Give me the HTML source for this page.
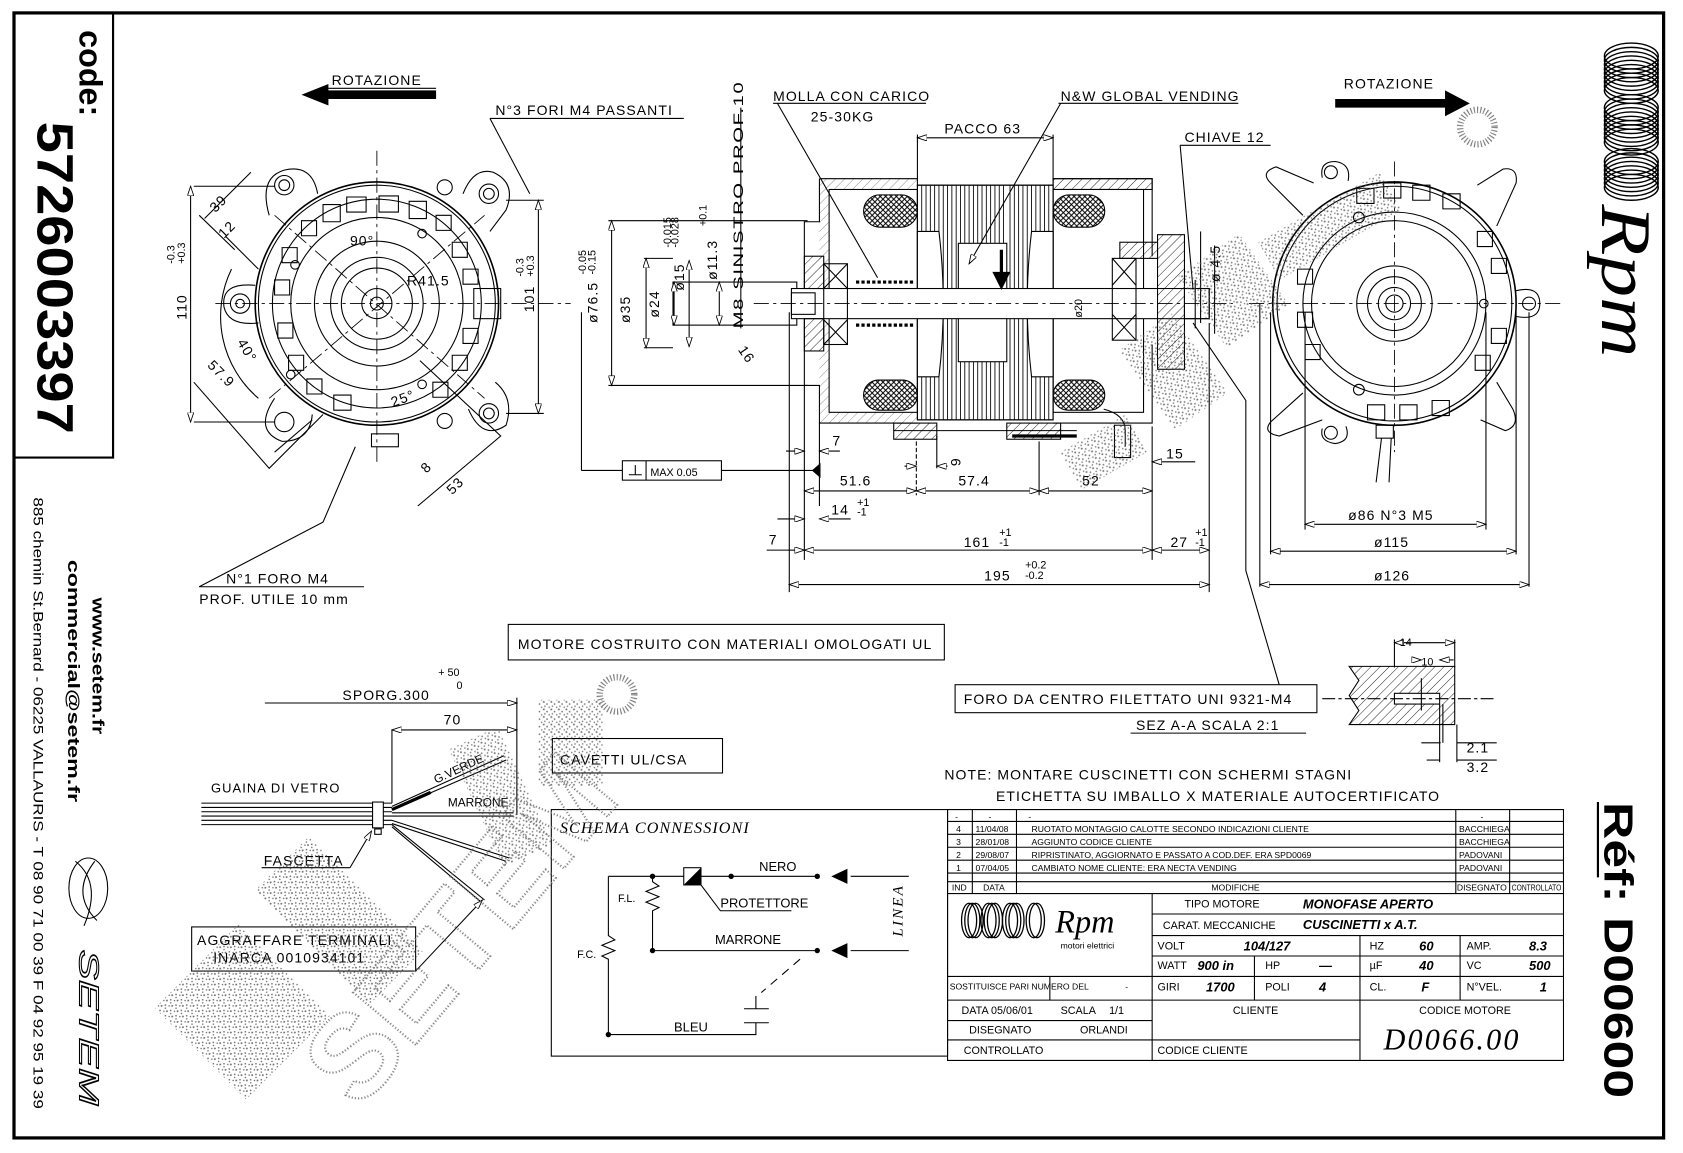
<!DOCTYPE html>
<html><head><meta charset="utf-8"><style>
html,body{margin:0;padding:0;background:#fff;}
svg{display:block;}
text{font-family:"Liberation Sans",sans-serif;fill:#000;}
.t{font-size:13px;letter-spacing:1px;}
.s{font-size:10px;}
.l{stroke:#000;stroke-width:1;fill:none;}
.th{stroke:#000;stroke-width:2;fill:none;}
.d{stroke:#000;stroke-width:0.8;fill:none;stroke-dasharray:14 4 3 4;}
</style></head><body>
<svg width="1683" height="1153" viewBox="0 0 1563 1071" preserveAspectRatio="none" xmlns="http://www.w3.org/2000/svg">
<defs>
<marker id="a" markerWidth="10" markerHeight="6" refX="9" refY="3" orient="auto-start-reverse" markerUnits="userSpaceOnUse"><path d="M0,0 L9,3 L0,6 Z" fill="#fff" stroke="#000" stroke-width="0.8"/></marker>
<pattern id="h" width="6" height="6" patternUnits="userSpaceOnUse" patternTransform="rotate(45)"><line x1="0" y1="0" x2="0" y2="6" stroke="#000" stroke-width="0.8"/></pattern>
<pattern id="x" width="5" height="5" patternUnits="userSpaceOnUse"><path d="M0,0 L5,5 M5,0 L0,5" stroke="#000" stroke-width="0.9"/></pattern>
<pattern id="g" width="7" height="7" patternUnits="userSpaceOnUse"><circle cx="1" cy="1" r="0.9" fill="#555"/><circle cx="4" cy="3" r="0.8" fill="#555"/><circle cx="2" cy="5" r="0.7" fill="#555"/><circle cx="6" cy="6" r="0.7" fill="#555"/></pattern>
</defs>
<rect width="1563" height="1071" fill="#fff"/>
<!-- frame -->
<rect x="13" y="12" width="1532" height="1045" fill="none" stroke="#000" stroke-width="3"/>
<path d="M105,12 V425 H13" class="th" stroke-width="3"/>
<text transform="translate(74,28) rotate(90)" style="font-size:30px;font-weight:bold">code:</text>
<text transform="translate(35,113) rotate(90)" style="font-size:47px;font-weight:bold" textLength="290" lengthAdjust="spacingAndGlyphs">5726003397</text>
<text transform="translate(31,462) rotate(90)" style="font-size:13px" textLength="568" lengthAdjust="spacingAndGlyphs">885 chemin St.Bernard  -  06225 VALLAURIS  -  T 08 90 71 00 39   F 04 92 95 19 39</text>
<text transform="translate(63,520) rotate(90)" style="font-size:15px;font-weight:bold" textLength="225" lengthAdjust="spacingAndGlyphs">commercial@setem.fr</text>
<text transform="translate(86,555) rotate(90)" style="font-size:15px;font-weight:bold" textLength="127" lengthAdjust="spacingAndGlyphs">www.setem.fr</text>
<ellipse cx="82" cy="825" rx="18" ry="28" class="l"/><path d="M70,800 Q95,820 78,860 M88,800 Q65,830 90,855" class="l"/>
<text transform="translate(74,882) rotate(90)" style="font-size:26px;font-style:italic;fill:#fff;stroke:#000;stroke-width:1" textLength="145" lengthAdjust="spacingAndGlyphs">SETEM</text>

<!-- Rpm logo right -->
<g stroke="#000" stroke-width="1.3" fill="none">
<ellipse cx="1515" cy="52" rx="25" ry="12"/><ellipse cx="1515" cy="56" rx="25" ry="12"/><ellipse cx="1515" cy="60" rx="25" ry="12"/><ellipse cx="1515" cy="64" rx="25" ry="12"/><ellipse cx="1515" cy="68" rx="25" ry="12"/><ellipse cx="1515" cy="72" rx="25" ry="12"/><ellipse cx="1515" cy="76" rx="25" ry="12"/><ellipse cx="1515" cy="80" rx="25" ry="12"/><ellipse cx="1515" cy="84" rx="25" ry="12"/>
<ellipse cx="1515" cy="100" rx="25" ry="12"/><ellipse cx="1515" cy="104" rx="25" ry="12"/><ellipse cx="1515" cy="108" rx="25" ry="12"/><ellipse cx="1515" cy="112" rx="25" ry="12"/><ellipse cx="1515" cy="116" rx="25" ry="12"/><ellipse cx="1515" cy="120" rx="25" ry="12"/><ellipse cx="1515" cy="124" rx="25" ry="12"/><ellipse cx="1515" cy="128" rx="25" ry="12"/><ellipse cx="1515" cy="132" rx="25" ry="12"/>
<ellipse cx="1515" cy="150" rx="25" ry="12"/><ellipse cx="1515" cy="154" rx="25" ry="12"/><ellipse cx="1515" cy="158" rx="25" ry="12"/><ellipse cx="1515" cy="162" rx="25" ry="12"/><ellipse cx="1515" cy="166" rx="25" ry="12"/><ellipse cx="1515" cy="170" rx="25" ry="12"/><ellipse cx="1515" cy="174" rx="25" ry="12"/>
</g>
<text transform="translate(1488,190) rotate(90)" style="font-size:66px;font-style:italic;font-family:'Liberation Serif',serif" textLength="142" lengthAdjust="spacingAndGlyphs">Rpm</text>
<text transform="translate(1490,745) rotate(90)" style="font-size:38px;font-weight:bold" textLength="275" lengthAdjust="spacingAndGlyphs">Réf: D00600</text>
<line x1="1484" y1="745" x2="1484" y2="815" class="th"/>

<!-- ROTAZIONE arrows -->
<text x="308" y="79" class="t">ROTAZIONE</text><line x1="305" y1="82" x2="405" y2="82" class="l"/>
<path d="M405,84 H305 V78 L280,88 L305,98 V92 H405 Z"/>
<text x="1248" y="82" class="t">ROTAZIONE</text>
<path d="M1240,92 H1342 V84 L1365,96 L1342,108 V100 H1240 Z"/>

<!-- LEFT FRONT VIEW -->
<g class="l">
<circle cx="350" cy="282" r="113" stroke-width="1.5"/><circle cx="350" cy="282" r="110"/><circle cx="350" cy="282" r="97"/><circle cx="350" cy="282" r="80"/><circle cx="350" cy="282" r="58"/><circle cx="350" cy="282" r="43"/><circle cx="350" cy="282" r="33"/><circle cx="350" cy="282" r="14"/><circle cx="350" cy="282" r="6"/>
<path d="M250,200 Q240,165 264,158 Q290,152 295,180 M430,180 Q440,155 458,160 Q480,170 470,195 L455,215"/>
<path d="M255,370 Q235,400 262,410 Q288,410 290,385 M435,380 Q448,410 470,395 Q478,370 460,355"/>
<path d="M237,265 Q205,262 208,285 Q212,303 240,300"/>
<circle cx="264" cy="172" r="9"/><circle cx="264" cy="172" r="5"/><circle cx="454" cy="180" r="9"/><circle cx="454" cy="180" r="5"/>
<circle cx="223" cy="282" r="9"/><circle cx="223" cy="282" r="4"/><circle cx="264" cy="392" r="9"/><circle cx="454" cy="384" r="9"/><circle cx="454" cy="384" r="5"/>
<circle cx="413" cy="174" r="7"/><circle cx="413" cy="391" r="7"/><circle cx="392" cy="217" r="4"/><circle cx="392" cy="357" r="4"/><circle cx="274" cy="246" r="4"/><circle cx="270" cy="348" r="4"/>
<rect x="440" y="268" width="25" height="28"/><rect x="345" y="403" width="25" height="12"/>
<path d="M280,205 h14 v14 h-14z M300,190 h16 v16 h-16z M322,183 h18 v14 h-18z M352,182 h18 v15 h-18z M380,187 h16 v16 h-16z M405,200 h14 v14 h-14z M420,225 h14 v14 h-14z M430,250 h14 v14 h-14z M430,305 h14 v14 h-14z M420,330 h14 v14 h-14z M402,355 h14 v14 h-14z M262,230 h14 v14 h-14z M255,260 h14 v14 h-14z M258,300 h14 v14 h-14z M268,330 h14 v14 h-14z M285,352 h14 v14 h-14z M310,367 h16 v14 h-16z"/>
</g>
<g class="d"><line x1="200" y1="282" x2="530" y2="282"/><line x1="350" y1="140" x2="350" y2="430"/><line x1="255" y1="200" x2="450" y2="370"/><line x1="250" y1="370" x2="450" y2="200"/></g>
<g class="l">
<line x1="180" y1="173" x2="255" y2="173"/><line x1="180" y1="392" x2="255" y2="392"/><line x1="177" y1="173" x2="177" y2="392" marker-start="url(#a)" marker-end="url(#a)"/>
<line x1="470" y1="186" x2="505" y2="186"/><line x1="470" y1="384" x2="505" y2="384"/><line x1="500" y1="186" x2="500" y2="384" marker-start="url(#a)" marker-end="url(#a)"/>
<path d="M190,203 L233,160 M185,200 L218,232 M210,220 L240,250"/>
<path d="M180,355 L250,435 L300,385 M255,420 L290,390 M388,470 L465,405 L390,335"/>
<path d="M330,415 L300,485 L185,545 H338 M455,110 H635 M455,110 L492,180"/>
<path d="M215,250 A100 100 0 0 0 240,370" />
</g>
<text transform="translate(173,297) rotate(-90)" class="t">110</text>
<text transform="translate(162,245) rotate(-90)" class="s">-0.3</text>
<text transform="translate(172,245) rotate(-90)" class="s">+0.3</text>
<text transform="translate(496,290) rotate(-90)" class="t">101</text>
<text transform="translate(486,257) rotate(-90)" class="s">-0.3</text>
<text transform="translate(496,257) rotate(-90)" class="s">+0.3</text>
<text transform="translate(200,198) rotate(-45)" class="t">39</text>
<text transform="translate(208,222) rotate(-45)" class="t">12</text>
<text transform="translate(192,340) rotate(45)" class="t">57.9</text>
<text transform="translate(220,318) rotate(60)" class="t">40°</text>
<text x="325" y="228" class="t">90°</text><text x="378" y="265" class="t">R41.5</text>
<text transform="translate(365,378) rotate(-20)" class="t">25°</text>
<text transform="translate(420,460) rotate(-45)" class="t">53</text>
<text transform="translate(396,440) rotate(-45)" class="t">8</text>
<text x="460" y="107" class="t">N°3 FORI M4 PASSANTI</text>
<text x="210" y="542" class="t">N°1 FORO M4</text>
<text x="185" y="561" class="t">PROF. UTILE 10 mm</text>

<g class="l">
<line x1="565" y1="205" x2="750" y2="205"/><line x1="565" y1="358" x2="750" y2="358"/><line x1="568" y1="205" x2="568" y2="358" marker-start="url(#a)" marker-end="url(#a)"/>
<line x1="598" y1="240" x2="625" y2="240"/><line x1="598" y1="323" x2="625" y2="323"/><line x1="600" y1="240" x2="600" y2="323" marker-start="url(#a)" marker-end="url(#a)"/>
<rect x="625" y="262" width="115" height="40"/><line x1="626" y1="262" x2="626" y2="302" marker-start="url(#a)" marker-end="url(#a)"/>
<line x1="640" y1="242" x2="640" y2="322" marker-start="url(#a)" marker-end="url(#a)"/>
<line x1="668" y1="262" x2="668" y2="302" marker-start="url(#a)" marker-end="url(#a)"/>
<line x1="688" y1="100" x2="688" y2="305"/>
<line x1="540" y1="290" x2="540" y2="437"/><line x1="540" y1="437" x2="578" y2="437"/>
<rect x="578" y="428" width="92" height="18"/><line x1="600" y1="428" x2="600" y2="446"/><line x1="670" y1="437" x2="762" y2="437"/>
</g>
<path d="M584,441 h12 M590,441 v-9" class="l"/><text x="604" y="442" class="s">MAX 0.05</text>
<path d="M762,430 L754,437 L762,444 Z"/>
<text transform="translate(555,300) rotate(-90)" class="t">ø76.5</text>
<text transform="translate(544,255) rotate(-90)" class="s">-0.05</text><text transform="translate(553,255) rotate(-90)" class="s">-0.15</text>
<text transform="translate(585,300) rotate(-90)" class="t">ø35</text>
<text transform="translate(612,295) rotate(-90)" class="t">ø24</text>
<text transform="translate(635,270) rotate(-90)" class="t">ø15</text>
<text transform="translate(623,230) rotate(-90)" class="s">-0.015</text><text transform="translate(630,230) rotate(-90)" class="s">-0.028</text>
<text transform="translate(666,260) rotate(-90)" class="t">ø11.3</text>
<text transform="translate(656,210) rotate(-90)" class="s">+0.1</text>
<text transform="translate(690,305) rotate(-90)" class="t" textLength="230" lengthAdjust="spacingAndGlyphs">M8 SINISTRO PROF.10</text>
<text transform="translate(685,325) rotate(55)" class="t">16</text>

<!-- CROSS SECTION -->
<g class="l">
<path d="M761,166 H852 M978,166 H1070 V238 M761,166 V206 H747 V358 H761 V393 H852 M978,393 H1070 V320"/>
<rect x="761" y="166" width="91" height="227" fill="url(#h)" stroke="none" opacity="0.5"/>
<rect x="770" y="176" width="82" height="207" fill="#fff" stroke="#000"/>
<rect x="978" y="176" width="84" height="207" fill="#fff" stroke="#000"/>
<rect x="978" y="166" width="92" height="10" fill="url(#h)"/>
<rect x="852" y="172" width="126" height="218" fill="#fff"/>
<path d="M856,172 V390 M860,172 V390 M864,172 V390 M868,172 V390 M872,172 V390 M876,172 V390 M880,172 V390 M884,172 V390 M888,172 V390 M892,172 V390 M938,172 V390 M942,172 V390 M946,172 V390 M950,172 V390 M954,172 V390 M958,172 V390 M962,172 V390 M966,172 V390 M970,172 V390 M974,172 V390 M896,172 V226 M900,172 V226 M904,172 V226 M908,172 V226 M912,172 V226 M916,172 V226 M920,172 V226 M924,172 V226 M928,172 V226 M932,172 V226 M896,336 V390 M900,336 V390 M904,336 V390 M908,336 V390 M912,336 V390 M916,336 V390 M920,336 V390 M924,336 V390 M928,336 V390 M932,336 V390" stroke-width="0.8"/>
<rect x="852" y="172" width="126" height="218"/>
<path d="M852,215 L872,215 Q880,282 872,350 L852,350 Z M978,215 L958,215 Q950,282 958,350 L978,350 Z" fill="#fff"/>
<rect x="890" y="226" width="45" height="110" fill="#fff"/>
<rect x="802" y="181" width="50" height="30" rx="15" fill="url(#x)"/><rect x="802" y="353" width="50" height="28" rx="14" fill="url(#x)"/>
<rect x="978" y="181" width="48" height="30" rx="15" fill="url(#x)"/><rect x="978" y="353" width="48" height="28" rx="14" fill="url(#x)"/>
<rect x="735" y="268" width="388" height="28" fill="#fff"/>
<rect x="735" y="272" width="22" height="20"/>
<rect x="765" y="245" width="22" height="75"/><path d="M765,245 L787,268 M787,245 L765,268 M765,297 L787,320 M787,297 L765,320"/>
<rect x="1033" y="240" width="22" height="76"/><path d="M1033,240 L1055,265 M1055,240 L1033,265 M1033,292 L1055,316 M1055,292 L1033,316"/>
<rect x="747" y="238" width="18" height="30" fill="url(#h)"/><rect x="747" y="296" width="18" height="30" fill="url(#h)"/>
<rect x="1075" y="218" width="25" height="125" fill="url(#h)"/><rect x="1040" y="225" width="35" height="15" fill="url(#h)"/>
<path d="M795,262 h55 M795,302 h55" stroke-dasharray="3 2" stroke-width="3"/>
<rect x="830" y="393" width="40" height="15" fill="url(#h)"/><rect x="935" y="393" width="50" height="15" fill="url(#h)"/>
<line x1="830" y1="400" x2="1000" y2="400"/><line x1="940" y1="405" x2="1000" y2="405" stroke-width="3"/>
<path d="M1025,380 Q1045,385 1045,400 V415 M1035,395 h15 v30 h-15z"/>
<line x1="1110" y1="260" x2="1110" y2="305"/><rect x="1100" y="268" width="23" height="28"/>
</g>
<path d="M930,232 V262 M924,254 L930,266 L936,254 Z" stroke="#000" stroke-width="3" fill="#000"/>
<line x1="700" y1="282" x2="1145" y2="282" class="d"/>
<g class="l">
<line x1="718" y1="96" x2="860" y2="96"/><path d="M722,96 L815,258"/>
<line x1="983" y1="96" x2="1150" y2="96"/><path d="M985,96 L900,245" marker-end="url(#a)"/>
<line x1="852" y1="128" x2="978" y2="128" marker-start="url(#a)" marker-end="url(#a)"/><line x1="852" y1="125" x2="852" y2="172"/><line x1="978" y1="125" x2="978" y2="172"/>
<line x1="1096" y1="135" x2="1180" y2="135"/><path d="M1096,135 L1108,269 M1108,300 L1157,372 V530 L1188,636"/>
<line x1="1115" y1="215" x2="1115" y2="300"/><line x1="1128" y1="228" x2="1128" y2="310"/>
<line x1="733" y1="290" x2="733" y2="550"/><line x1="747" y1="358" x2="747" y2="520"/><line x1="761" y1="393" x2="761" y2="470"/>
<line x1="851" y1="410" x2="851" y2="460" stroke-dasharray="4 2"/><line x1="965" y1="410" x2="965" y2="460"/><line x1="1070" y1="396" x2="1070" y2="520"/><line x1="1123" y1="300" x2="1123" y2="550"/>
<line x1="870" y1="405" x2="870" y2="435"/>
<line x1="730" y1="419" x2="747" y2="419" marker-end="url(#a)"/><line x1="761" y1="419" x2="780" y2="419" marker-start="url(#a)"/>
<line x1="840" y1="433" x2="851" y2="433" marker-end="url(#a)"/><line x1="870" y1="433" x2="880" y2="433" marker-start="url(#a)"/>
<line x1="1070" y1="429" x2="1110" y2="429" marker-start="url(#a)"/>
<line x1="747" y1="456" x2="851" y2="456" marker-start="url(#a)" marker-end="url(#a)"/><line x1="851" y1="456" x2="965" y2="456" marker-start="url(#a)" marker-end="url(#a)"/><line x1="965" y1="456" x2="1070" y2="456" marker-start="url(#a)" marker-end="url(#a)"/>
<line x1="722" y1="482" x2="747" y2="482" marker-end="url(#a)"/><line x1="761" y1="482" x2="790" y2="482" marker-start="url(#a)"/>
<line x1="712" y1="511" x2="733" y2="511"/><line x1="733" y1="511" x2="747" y2="511" marker-end="url(#a)"/><line x1="747" y1="511" x2="1070" y2="511" marker-start="url(#a)" marker-end="url(#a)"/><line x1="1070" y1="511" x2="1123" y2="511" marker-start="url(#a)" marker-end="url(#a)"/>
<line x1="733" y1="543" x2="1123" y2="543" marker-start="url(#a)" marker-end="url(#a)"/>
</g>
<text x="718" y="94" class="t">MOLLA CON CARICO</text><text x="753" y="113" class="t">25-30KG</text>
<text x="985" y="94" class="t">N&amp;W GLOBAL VENDING</text>
<text x="877" y="124" class="t">PACCO 63</text>
<text x="1100" y="132" class="t">CHIAVE 12</text>
<text transform="translate(1133,262) rotate(-90)" class="t">ø 4.5</text>
<text transform="translate(1005,295) rotate(-90)" class="s">ø20</text>
<text x="773" y="414" class="t">7</text><text x="883" y="432" class="t" transform="rotate(-90 888 428)">9</text>
<text x="1083" y="426" class="t">15</text>
<text x="780" y="451" class="t">51.6</text><text x="890" y="451" class="t">57.4</text><text x="1005" y="451" class="t">52</text>
<text x="772" y="478" class="t">14</text><text x="796" y="470" class="s">+1</text><text x="796" y="479" class="s">-1</text>
<text x="714" y="506" class="t">7</text><text x="895" y="508" class="t">161</text><text x="928" y="498" class="s">+1</text><text x="928" y="507" class="s">-1</text>
<text x="1087" y="508" class="t">27</text><text x="1110" y="498" class="s">+1</text><text x="1110" y="507" class="s">-1</text>
<text x="914" y="539" class="t">195</text><text x="952" y="528" class="s">+0.2</text><text x="952" y="538" class="s">-0.2</text>

<!-- RIGHT VIEW -->
<g class="l">
<circle cx="1295" cy="282" r="113" stroke-width="1.5"/><circle cx="1295" cy="282" r="109"/><circle cx="1295" cy="282" r="85"/><circle cx="1295" cy="282" r="77"/><circle cx="1295" cy="282" r="35"/><circle cx="1295" cy="282" r="25"/><circle cx="1295" cy="282" r="15"/><circle cx="1295" cy="282" r="8"/>
<path d="M1210,200 L1180,170 Q1170,160 1185,155 L1220,170 M1372,172 L1396,157 Q1410,155 1408,170 L1390,210"/>
<path d="M1210,365 L1180,392 Q1172,402 1188,405 L1228,390 M1375,390 L1398,400 Q1412,396 1405,380 L1390,355"/>
<path d="M1228,165 Q1225,150 1240,150 Q1255,152 1252,168 M1228,398 Q1225,410 1240,412 Q1255,410 1250,396"/>
<circle cx="1236" cy="160" r="6"/><circle cx="1236" cy="402" r="6"/><circle cx="1262" cy="202" r="5"/><circle cx="1262" cy="362" r="5"/><circle cx="1378" cy="282" r="4"/>
<path d="M1408,270 Q1430,265 1430,282 Q1430,298 1408,294"/><circle cx="1420" cy="282" r="6"/>
<rect x="1278" y="395" width="16" height="12"/><path d="M1283,407 L1278,448 M1292,407 L1290,448"/>
<path d="M1260,175 h16 v14 h-16z M1285,170 h16 v14 h-16z M1312,172 h16 v14 h-16z M1340,180 h16 v14 h-16z M1372,215 h14 v14 h-14z M1385,240 h14 v14 h-14z M1385,305 h14 v14 h-14z M1370,330 h14 v14 h-14z M1205,250 h14 v14 h-14z M1205,290 h14 v14 h-14z M1212,320 h14 v14 h-14z M1270,376 h16 v14 h-16z M1300,376 h16 v14 h-16z M1330,372 h16 v14 h-16z"/>
</g>
<g class="d"><line x1="1160" y1="282" x2="1450" y2="282"/><line x1="1295" y1="150" x2="1295" y2="420"/></g>
<g class="l">
<line x1="1212" y1="290" x2="1212" y2="492"/><line x1="1380" y1="290" x2="1380" y2="492"/><line x1="1212" y1="487" x2="1380" y2="487" marker-start="url(#a)" marker-end="url(#a)"/>
<line x1="1180" y1="290" x2="1180" y2="515"/><line x1="1408" y1="290" x2="1408" y2="515"/><line x1="1180" y1="512" x2="1408" y2="512" marker-start="url(#a)" marker-end="url(#a)"/>
<line x1="1170" y1="282" x2="1170" y2="545"/><line x1="1420" y1="290" x2="1420" y2="545"/><line x1="1170" y1="543" x2="1420" y2="543" marker-start="url(#a)" marker-end="url(#a)"/>
</g>
<text x="1252" y="483" class="t">ø86 N°3 M5</text><text x="1276" y="508" class="t">ø115</text><text x="1276" y="539" class="t">ø126</text>

<!-- FORO / Section A-A -->
<rect x="887" y="636" width="336" height="26" class="l"/>
<text x="895" y="654" class="t">FORO DA CENTRO FILETTATO UNI 9321-M4</text>
<text x="1055" y="678" class="t">SEZ A-A  SCALA 2:1</text><line x1="1050" y1="681" x2="1213" y2="681" class="l"/>
<g class="l">
<path d="M1253,619 H1351 V673 H1253 L1262,660 L1253,646 L1262,632 Z" fill="url(#h)"/>
<rect x="1295" y="644" width="42" height="10" fill="#fff"/><line x1="1320" y1="630" x2="1320" y2="660"/>
<line x1="1228" y1="649" x2="1390" y2="649" stroke-dasharray="12 3 3 3"/>
<line x1="1295" y1="594" x2="1295" y2="620"/><line x1="1351" y1="594" x2="1351" y2="620"/><line x1="1295" y1="597" x2="1351" y2="597" marker-start="url(#a)" marker-end="url(#a)"/>
<line x1="1312" y1="613" x2="1320" y2="613" marker-end="url(#a)"/><line x1="1337" y1="613" x2="1350" y2="613" marker-start="url(#a)"/>
<line x1="1337" y1="654" x2="1337" y2="708"/><line x1="1340" y1="654" x2="1340" y2="690"/><line x1="1353" y1="673" x2="1353" y2="708"/>
<line x1="1320" y1="690" x2="1338" y2="690"/><line x1="1353" y1="690" x2="1390" y2="690"/><line x1="1325" y1="706" x2="1337" y2="706"/><line x1="1353" y1="706" x2="1390" y2="706"/>
</g>
<text x="1362" y="699" class="t">2.1</text><text x="1362" y="717" class="t">3.2</text>
<text x="1300" y="600" class="s">14</text><text x="1320" y="618" class="s">10</text>

<rect x="472" y="580" width="405" height="33" class="l"/>
<text x="481" y="603" class="t">MOTORE COSTRUITO CON MATERIALI OMOLOGATI UL</text>
<text x="877" y="724" class="t">NOTE: MONTARE CUSCINETTI CON SCHERMI STAGNI</text>
<text x="925" y="744" class="t">ETICHETTA SU IMBALLO X MATERIALE AUTOCERTIFICATO</text>

<!-- harness -->
<g class="l">
<line x1="246" y1="653" x2="480" y2="653" marker-end="url(#a)"/><line x1="480" y1="648" x2="480" y2="757"/>
<line x1="364" y1="678" x2="480" y2="678" marker-start="url(#a)" marker-end="url(#a)"/><line x1="364" y1="678" x2="364" y2="746"/>
<path d="M187,746 H364 M187,750 H364 M187,754 H364 M187,758 H364 M187,762 H364 M187,766 H364"/>
<rect x="346" y="745" width="10" height="24" fill="#fff"/><rect x="348" y="770" width="6" height="5"/>
<path d="M364,749 L468,702 M364,752 L470,706 M364,755 L477,755 M364,758 L477,758 M364,762 L473,797 M364,765 L470,800 M364,766 L450,836 M364,768 L447,838"/>
<rect x="513" y="686" width="158" height="32"/>
<line x1="243" y1="806" x2="325" y2="806"/><line x1="325" y1="806" x2="345" y2="772" marker-end="url(#a)"/>
<rect x="178" y="861" width="208" height="41"/><line x1="386" y1="902" x2="448" y2="836" marker-end="url(#a)"/>
</g>
<path d="M364,752 L400,736" stroke="#000" stroke-width="3"/>
<text x="318" y="650" class="t">SPORG.300</text><text x="407" y="628" class="s">+ 50</text><text x="424" y="640" class="s">0</text>
<text x="412" y="673" class="t">70</text>
<text x="196" y="736" class="s" style="font-size:12px;letter-spacing:1px">GUAINA DI VETRO</text>
<text transform="translate(405,728) rotate(-25)" class="s" style="font-size:11px">G.VERDE</text>
<text x="416" y="749" class="s" style="font-size:11px">MARRONE</text>
<text x="245" y="804" class="t">FASCETTA</text>
<text x="520" y="710" class="t">CAVETTI UL/CSA</text>
<text x="183" y="878" class="t">AGGRAFFARE TERMINALI</text><text x="198" y="894" class="t">INARCA 0010934101</text>

<!-- schema connessioni -->
<rect x="512" y="752" width="368" height="229" class="l"/>
<text x="520" y="774" style="font-size:15px;font-style:italic;font-family:'Liberation Serif',serif;letter-spacing:1px">SCHEMA CONNESSIONI</text>
<g class="l">
<path d="M565,814 H759 M606,814 V819 L612,823 L600,828 L612,833 L600,838 L612,843 L606,846 V883 H759 M565,814 V869 L571,873 L559,878 L571,883 L559,888 L565,891 V961 H702 V950 M691,950 H714 M691,937 H714 M702,937 V925"/>
<path d="M743,891 L707,922" stroke-dasharray="8 6"/>
<line x1="790" y1="814" x2="844" y2="814"/><line x1="790" y1="883" x2="844" y2="883"/>
<rect x="635" y="806" width="16" height="16" fill="#fff"/>
<path d="M651,822 L669,846 H735"/>
</g>
<path d="M635,822 L651,806 V822 Z"/>
<circle cx="606" cy="814" r="2.5"/><circle cx="679" cy="814" r="2.5"/><circle cx="759" cy="814" r="2.5"/><circle cx="606" cy="883" r="2.5"/><circle cx="759" cy="883" r="2.5"/><circle cx="565" cy="961" r="2.5"/>
<path d="M772,814 L787,807 V821 Z M772,883 L787,876 V890 Z"/>
<text x="705" y="809" class="s" style="font-size:12px">NERO</text>
<text x="669" y="843" class="s" style="font-size:12px">PROTETTORE</text>
<text x="664" y="877" class="s" style="font-size:12px">MARRONE</text>
<text x="574" y="838" class="s">F.L.</text><text x="536" y="890" class="s">F.C.</text>
<text x="626" y="958" class="s" style="font-size:12px">BLEU</text>
<text transform="translate(838,870) rotate(-90)" style="font-size:14px;font-style:italic;font-family:'Liberation Serif',serif;letter-spacing:2px">LINEA</text>

<!-- title block -->
<g class="l">
<path d="M880,752 H1452 V985 H880 Z"/>
<path d="M880,763 H1452 M880,775 H1452 M880,787 H1452 M880,799 H1452 M880,811 H1452 M880,819 H1452 M880,830 H1452"/>
<path d="M903,752 V830 M944,752 V830 M1352,752 V830 M1402,752 V830"/>
<path d="M1070,830 V985 M1070,849 H1452 M1070,869 H1452 M1070,888 H1452 M880,907 H1452 M880,929 H1452 M880,948 H1070 M880,966 H1070 M1070,966 H1263"/>
<path d="M1263,869 V985 M1356,869 V929 M1165,888 V929 M975,907 V929"/>
</g>
<g style="font-size:8px">
<text x="887" y="761">-</text><text x="918" y="761">-</text><text x="955" y="761">-</text><text x="1375" y="761">-</text>
<text x="888" y="773">4</text><text x="906" y="773">11/04/08</text><text x="958" y="773">RUOTATO MONTAGGIO CALOTTE SECONDO INDICAZIONI CLIENTE</text><text x="1355" y="773">BACCHIEGA</text>
<text x="888" y="785">3</text><text x="906" y="785">28/01/08</text><text x="958" y="785">AGGIUNTO CODICE CLIENTE</text><text x="1355" y="785">BACCHIEGA</text>
<text x="888" y="797">2</text><text x="906" y="797">29/08/07</text><text x="958" y="797">RIPRISTINATO, AGGIORNATO E PASSATO A COD.DEF. ERA SPD0069</text><text x="1355" y="797">PADOVANI</text>
<text x="888" y="809">1</text><text x="906" y="809">07/04/05</text><text x="958" y="809">CAMBIATO NOME CLIENTE: ERA NECTA VENDING</text><text x="1355" y="809">PADOVANI</text>
<text x="884" y="827">IND</text><text x="913" y="827">DATA</text><text x="1125" y="827">MODIFICHE</text><text x="1353" y="827">DISEGNATO</text><text x="1404" y="827" textLength="46" lengthAdjust="spacingAndGlyphs">CONTROLLATO</text>
<text x="882" y="919">SOSTITUISCE PARI NUMERO DEL</text><text x="1045" y="919">-</text>
</g>
<g style="font-size:10px">
<text x="1100" y="843">TIPO MOTORE</text><text x="1080" y="863">CARAT. MECCANICHE</text>
<text x="1075" y="882">VOLT</text><text x="1272" y="882">HZ</text><text x="1362" y="882">AMP.</text>
<text x="1075" y="900">WATT</text><text x="1175" y="900">HP</text><text x="1272" y="900">µF</text><text x="1362" y="900">VC</text>
<text x="1075" y="920">GIRI</text><text x="1175" y="920">POLI</text><text x="1272" y="920">CL.</text><text x="1362" y="920">N°VEL.</text>
<text x="893" y="942">DATA  05/06/01</text><text x="985" y="942">SCALA</text><text x="1030" y="942">1/1</text>
<text x="900" y="960">DISEGNATO</text><text x="1003" y="960">ORLANDI</text>
<text x="895" y="979">CONTROLLATO</text>
<text x="1145" y="942">CLIENTE</text><text x="1075" y="979">CODICE CLIENTE</text>
<text x="1318" y="942">CODICE MOTORE</text>
</g>
<g style="font-size:12px;font-style:italic;font-weight:bold;font-family:'Liberation Serif',serif">
<text x="1210" y="844">MONOFASE APERTO</text><text x="1210" y="863">CUSCINETTI x A.T.</text>
<text x="1155" y="883">104/127</text><text x="1318" y="883">60</text><text x="1420" y="883">8.3</text>
<text x="1112" y="901">900 in</text><text x="1225" y="901">—</text><text x="1318" y="901">40</text><text x="1420" y="901">500</text>
<text x="1120" y="921">1700</text><text x="1225" y="921">4</text><text x="1320" y="921">F</text><text x="1430" y="921">1</text>
</g>
<text x="1285" y="975" style="font-size:28px;font-style:italic;font-family:'Liberation Serif',serif;letter-spacing:2px">D0066.00</text>
<g stroke="#000" stroke-width="1.2" fill="none">
<ellipse cx="900" cy="855" rx="7" ry="16"/><ellipse cx="903" cy="855" rx="7" ry="16"/><ellipse cx="906" cy="855" rx="7" ry="16"/><ellipse cx="918" cy="855" rx="7" ry="16"/><ellipse cx="921" cy="855" rx="7" ry="16"/><ellipse cx="924" cy="855" rx="7" ry="16"/><ellipse cx="938" cy="855" rx="7" ry="16"/><ellipse cx="941" cy="855" rx="7" ry="16"/><ellipse cx="944" cy="855" rx="7" ry="16"/><ellipse cx="960" cy="855" rx="7" ry="16"/><ellipse cx="963" cy="855" rx="7" ry="16"/>
</g>
<text x="980" y="866" style="font-size:30px;font-style:italic;font-family:'Liberation Serif',serif">Rpm</text>
<text x="985" y="881" style="font-size:8px">motori elettrici</text>

<!-- grainy stamp textures -->
<g fill="url(#g)" opacity="0.85">
<rect x="1110" y="230" width="70" height="80" transform="rotate(-35 1145 270)"/>
<rect x="1170" y="190" width="130" height="40" transform="rotate(-30 1235 210)"/>
<rect x="1060" y="300" width="60" height="90" transform="rotate(-35 1090 345)"/>
<rect x="990" y="400" width="70" height="40" transform="rotate(-30 1025 420)"/>
<rect x="440" y="680" width="50" height="120" transform="rotate(-25 465 740)"/>
<rect x="170" y="880" width="110" height="120" transform="rotate(-45 225 940)"/>
<rect x="280" y="780" width="70" height="150" transform="rotate(-45 315 855)"/>
<rect x="500" y="650" width="60" height="80"/>
</g>
<text x="170" y="960" transform="rotate(-50 330 820)" style="font-size:110px;font-weight:bold;fill:none;stroke:#777;stroke-width:2;stroke-dasharray:1 2">SETEM</text>
<g fill="none" stroke="#777" stroke-width="6" stroke-dasharray="1 2">
<circle cx="573" cy="645" r="16"/><circle cx="1372" cy="118" r="16"/>
</g>
</svg>
</body></html>
